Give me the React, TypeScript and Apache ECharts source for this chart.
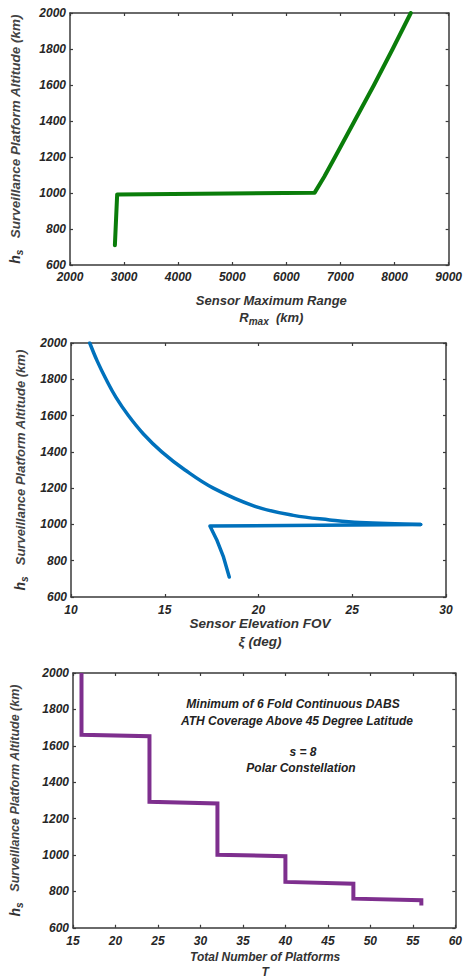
import React, { useEffect, useRef } from "react";
import * as echarts from "echarts";

// ---- Data ----
// Panel 1: sensor maximum range vs altitude
const rangeKm = [2830, 2872, 6523, 6700, 6900, 7260, 7620, 7965, 8300];
const rangeAlt = [710, 992, 1002, 1090, 1200, 1400, 1600, 1800, 2000];

// Panel 2: sensor elevation FOV vs altitude (upper branch, then return branch)
const fovUpperDeg = [11.0, 11.4, 11.87, 12.4, 13.06, 13.85, 14.84, 16.08, 17.59, 19.81, 21.86, 23.8, 25.4, 28.65];
const fovUpperAlt = [2000, 1900, 1800, 1700, 1600, 1500, 1400, 1300, 1200, 1100, 1050, 1025, 1010, 1000];
const fovLowerDeg = [28.65, 17.41, 17.77, 18.12, 18.44];
const fovLowerAlt = [1000, 991, 916, 824, 710];

// Panel 3: total number of platforms vs altitude
const platforms = [16, 16, 24, 24, 32, 32, 40, 40, 48, 48, 56, 56];
const platAlt = [2000, 1660, 1652, 1292, 1283, 1001, 993, 852, 842, 760, 751, 722];

const annotation = [
  "Minimum of 6 Fold Continuous DABS",
  "ATH Coverage Above 45 Degree Latitude",
  "s = 8",
  "Polar Constellation",
];

const FONT = '"Liberation Sans", Arial, sans-serif';
const TXT = "#262626";
const AX = "#3a3a3a";

function pairs(xs: number[], ys: number[]) {
  return xs.map((x, i) => [x, ys[i]]);
}

export default function App() {
  const ref = useRef<HTMLDivElement>(null);
  useEffect(() => {
    if (!ref.current) return;
    const chart = echarts.init(ref.current, undefined, { renderer: "svg" });

    const grids = [
      { left: 68, top: 13, width: 382, height: 252 },
      { left: 71, top: 343, width: 375, height: 254 },
      { left: 70, top: 673, width: 387, height: 256 },
    ];

    const xCfg = [
      { min: 2000, max: 9000, interval: 1000 },
      { min: 10, max: 30, interval: 5 },
      { min: 15, max: 60, interval: 5 },
    ];

    const xNames = [
      {
        name: "{a|Sensor Maximum Range}\n{a|R}{c|max}{a|  (km)}",
        size: 13,
        lh: 17,
        gap: 27,
        pad: [0, 0, 0, 24],
      },
      {
        name: "{a|Sensor Elevation FOV}\n{a|ξ (deg)}",
        size: 13.5,
        lh: 18,
        gap: 17,
        pad: [0, 0, 0, 3],
      },
      {
        name: "{a|Total Number of Platforms}\n{a|T}",
        size: 12,
        lh: 15.5,
        gap: 21,
        pad: [0, 0, 0, 2],
      },
    ];
    const yNameSize = [13.5, 13, 12.5];
    const yGap = [46, 42, 49];
    const labelMargin = [6, 7, 7];
    const fmt = (v: number) => String(v);

    const xAxis: any[] = [];
    const yAxis: any[] = [];
    grids.forEach((g, i) => {
      const common = {
        gridIndex: i,
        type: "value",
        min: xCfg[i].min,
        max: xCfg[i].max,
        interval: xCfg[i].interval,
        splitLine: { show: false },
        axisLine: { show: true, onZero: false, lineStyle: { color: AX, width: 1.5 } },
        axisTick: { show: true, inside: true, length: 3, lineStyle: { color: AX, width: 1.2 } },
      };
      const n = xNames[i];
      xAxis.push({
        ...common,
        position: "bottom",
        axisLabel: {
          margin: labelMargin[i],
          formatter: fmt,
          fontFamily: FONT,
          fontSize: 12,
          fontWeight: "bold",
          fontStyle: "italic",
          color: TXT,
        },
        name: n.name,
        nameLocation: "middle",
        nameGap: n.gap,
        nameTextStyle: {
          padding: n.pad,
          rich: {
            a: { fontFamily: FONT, fontSize: n.size, fontWeight: "bold", fontStyle: "italic", color: "#333", lineHeight: n.lh },
            c: { fontFamily: FONT, fontSize: 10, fontWeight: "bold", fontStyle: "italic", color: "#333", lineHeight: 10, verticalAlign: "bottom" },
          },
        },
      });
      xAxis.push({ ...common, position: "top", axisLabel: { show: false } });

      const ycommon = {
        gridIndex: i,
        type: "value",
        min: 600,
        max: 2000,
        interval: 200,
        splitLine: { show: false },
        axisLine: { show: true, onZero: false, lineStyle: { color: AX, width: 1.5 } },
        axisTick: { show: true, inside: true, length: 3, lineStyle: { color: AX, width: 1.2 } },
      };
      yAxis.push({
        ...ycommon,
        position: "left",
        axisLabel: {
          margin: 4,
          formatter: fmt,
          fontFamily: FONT,
          fontSize: 12,
          fontWeight: "bold",
          fontStyle: "italic",
          color: TXT,
        },
        name: "{h|h}{s|s}{t|   Surveillance Platform Altitude (km)}",
        nameLocation: "middle",
        nameGap: yGap[i],
        nameRotate: 90,
        nameTextStyle: {
          rich: {
            h: { fontFamily: FONT, fontSize: 14, fontWeight: "bold", fontStyle: "italic", color: "#333", lineHeight: 18 },
            s: { fontFamily: FONT, fontSize: 10, fontWeight: "bold", fontStyle: "italic", color: "#333", lineHeight: 10, verticalAlign: "bottom" },
            t: { fontFamily: FONT, fontSize: yNameSize[i], fontWeight: "bold", fontStyle: "italic", color: "#444", lineHeight: 18 },
          },
        },
      });
      yAxis.push({ ...ycommon, position: "right", axisLabel: { show: false } });
    });

    const lineSeries = (idx: number, data: number[][], color: string, width: number, smooth: any) => ({
      type: "line",
      xAxisIndex: idx * 2,
      yAxisIndex: idx * 2,
      data,
      showSymbol: false,
      symbol: "none",
      smooth,
      lineStyle: { color, width, join: "round", cap: "round" },
      clip: true,
    });

    const annX = [293, 297, 303, 301];
    const annY = [704, 721, 752, 768];

    chart.setOption({
      animation: false,
      backgroundColor: "#ffffff",
      grid: grids,
      xAxis,
      yAxis,
      series: [
        lineSeries(0, pairs(rangeKm, rangeAlt), "#0a7d0a", 4, false),
        lineSeries(1, pairs(fovUpperDeg, fovUpperAlt), "#0071bc", 3.5, 0.4),
        lineSeries(1, pairs(fovLowerDeg, fovLowerAlt), "#0071bc", 3.5, false),
        { ...lineSeries(2, pairs(platforms, platAlt), "#7e2f8e", 4, false), lineStyle: { color: "#7e2f8e", width: 4, join: "miter", cap: "butt" } },
      ],
      graphic: annotation.map((t, k) => ({
        type: "text",
        x: annX[k],
        y: annY[k],
        style: {
          text: t,
          align: "center",
          verticalAlign: "middle",
          fontFamily: FONT,
          fontSize: 12,
          fontWeight: "bold",
          fontStyle: "italic",
          fill: "#222",
        } as any,
      })),
    });
    return () => chart.dispose();
  }, []);
  return (
    <div
      ref={ref}
      style={{ position: "fixed", left: 0, top: 0, width: 465, height: 979, background: "#fff" }}
    />
  );
}
